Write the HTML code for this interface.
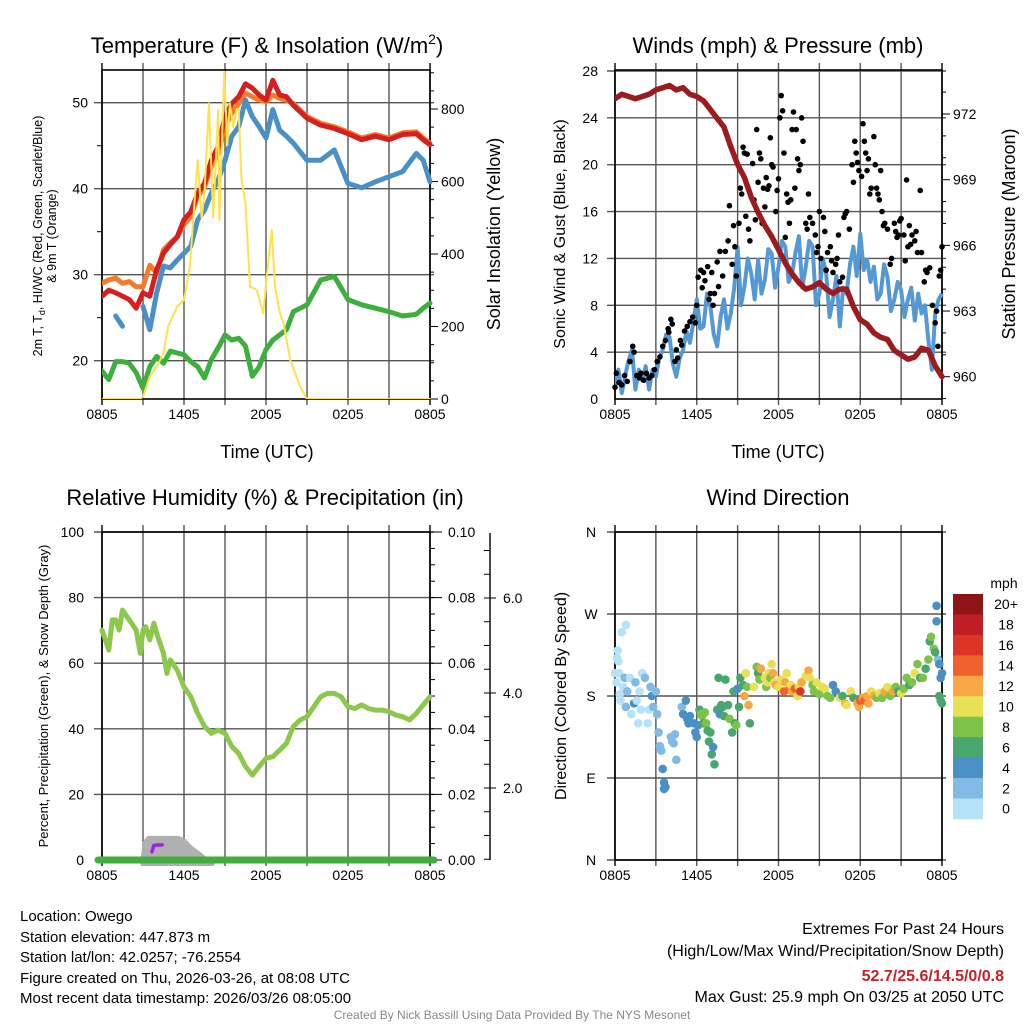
<!DOCTYPE html>
<html><head><meta charset="utf-8"><title>Owego Meteogram</title>
<style>
html,body{margin:0;padding:0;background:#fff;}
svg{display:block;font-family:"Liberation Sans",Arial,sans-serif;}
</style></head>
<body>
<svg id="fig" width="1024" height="1024" viewBox="0 0 1024 1024" xmlns="http://www.w3.org/2000/svg">
<rect width="1024" height="1024" fill="#fff"/>
<g id="p1"></g>
<g id="p2"></g>
<g id="p3"></g>
<g id="p4"></g>
<g id="txt">
<text x="267" y="53" font-size="22" text-anchor="middle">Temperature (F) &amp; Insolation (W/m<tspan font-size="14" dy="-9">2</tspan><tspan dy="9">)</tspan></text>
<text x="778" y="53" font-size="22" text-anchor="middle">Winds (mph) &amp; Pressure (mb)</text>
<text x="265" y="505" font-size="22" text-anchor="middle">Relative Humidity (%) &amp; Precipitation (in)</text>
<text x="778" y="505" font-size="22" text-anchor="middle">Wind Direction</text>
<text x="267" y="458" font-size="18" text-anchor="middle">Time (UTC)</text>
<text x="778" y="458" font-size="18" text-anchor="middle">Time (UTC)</text>
<text transform="translate(42,236) rotate(-90)" font-size="12.5" text-anchor="middle">2m T, T<tspan font-size="9" dy="3">d</tspan><tspan dy="-3">, HI/WC (Red, Green, Scarlet/Blue)</tspan></text>
<text transform="translate(56,236) rotate(-90)" font-size="12.5" text-anchor="middle">&amp; 9m T (Orange)</text>
<text transform="translate(500,234) rotate(-90)" font-size="18" text-anchor="middle">Solar Insolation (Yellow)</text>
<text transform="translate(565,234) rotate(-90)" font-size="16" text-anchor="middle">Sonic Wind &amp; Gust (Blue, Black)</text>
<text transform="translate(1015,234) rotate(-90)" font-size="18" text-anchor="middle">Station Pressure (Maroon)</text>
<text transform="translate(48,696) rotate(-90)" font-size="13" text-anchor="middle">Percent, Precipitation (Green), &amp; Snow Depth (Gray)</text>
<text transform="translate(566,696) rotate(-90)" font-size="16" text-anchor="middle">Direction (Colored By Speed)</text>
<g font-size="15">
<text x="20" y="921">Location: Owego</text>
<text x="20" y="942">Station elevation: 447.873 m</text>
<text x="20" y="962">Station lat/lon: 42.0257; -76.2554</text>
<text x="20" y="983">Figure created on Thu, 2026-03-26, at 08:08 UTC</text>
<text x="20" y="1003">Most recent data timestamp: 2026/03/26 08:05:00</text>
</g>
<g font-size="16" text-anchor="end">
<text x="1004" y="934">Extremes For Past 24 Hours</text>
<text x="1004" y="956">(High/Low/Max Wind/Precipitation/Snow Depth)</text>
<text x="1004" y="981" fill="#c8202a" font-weight="bold">52.7/25.6/14.5/0/0.8</text>
<text x="1004" y="1002">Max Gust: 25.9 mph On 03/25 at 2050 UTC</text>
</g>
<text x="512" y="1019" font-size="12" fill="#888" text-anchor="middle">Created By Nick Bassill Using Data Provided By The NYS Mesonet</text>
</g>
</svg>
<script>
// ---------- DATA ----------
const tempTimes = [0,0.5,1,1.5,2,2.5,3,3.5,4,4.5,5,5.5,6,6.5,7,7.5,8,8.5,9,9.5,10,10.5,11,11.5,12,12.5,13,13.5,14,15,16,17,18,19,20,21,22,23,23.5,24];
const tempRed = [27.5,28.2,27.9,27.5,27.1,26.1,27.9,27.5,30.6,32.5,33.5,34.4,36.4,37.3,39.5,40.6,43.3,44.9,48.4,49.9,50.7,52.2,51.7,50.9,50.3,52.6,50.9,50.7,49.7,48.2,47.4,47.0,46.4,45.7,46.1,45.7,46.3,46.4,45.7,45.1];
const temp9m = [29.0,29.4,29.6,29.0,29.2,28.6,28.6,31.1,30.2,32.9,33.7,34.4,35.8,36.8,39.1,40.2,42.6,44.1,47.2,48.8,49.9,51.1,50.7,50.3,50.1,50.9,50.5,50.3,49.9,48.4,47.6,47.2,46.6,45.9,46.3,45.9,46.5,46.6,45.9,45.3];
const windChill = [null,null,25.2,24.0,null,null,26.3,23.6,27.9,31.0,30.8,31.7,32.5,33.3,36.4,37.5,39.5,41.0,43.3,46.1,47.2,50.3,48.4,47.2,45.9,49.2,46.8,46.1,45.3,43.3,43.3,44.5,40.6,40.1,40.8,41.4,42.0,44.1,43.3,40.8];
const dewPoint = [18.8,17.8,19.9,19.9,19.7,18.6,16.8,19.3,20.5,19.7,21.1,20.9,20.7,19.9,19.3,18.0,20.1,21.5,23.0,22.4,22.6,21.7,18.2,19.3,21.3,22.4,23.0,23.6,25.7,26.5,29.4,29.8,27.1,26.5,26.1,25.7,25.2,25.4,26.1,26.7];
const solarTimes = [0,2.76,3.0,3.5,4.0,4.5,4.84,5.5,6.0,6.43,6.8,7.0,7.29,7.5,7.82,8.14,8.5,8.58,8.95,9.17,9.36,9.6,9.85,10.0,10.2,10.5,10.83,11.32,11.8,12.05,12.42,12.66,13.0,13.28,13.77,14.5,14.99,24];
const solarValues = [0,0,6,62,89,126,200,255,273,365,560,659,500,567,816,500,797,494,903,700,816,750,800,800,610,540,310,301,236,337,466,310,240,209,108,34,0,0];
const tempTicks = [20,30,40,50];
const solarTicks = [0,200,400,600,800];
const timeTickLabels = ["0805","1405","2005","0205","0805"];

const windSpeed = [1.1,2.5,0.5,2.0,3.3,4.2,0.8,2.5,1.6,2.8,0.8,2.5,1.9,3.5,4.2,5.5,5.3,3.0,1.9,3.5,4.2,5.8,4.8,6.5,8.5,6.0,6.2,9.0,7.9,5.5,4.5,7.0,8.5,6.0,7.3,9.5,13.0,8.0,9.6,12.0,10.7,8.5,11.9,9.0,10.2,12.8,12.4,9.5,11.3,13.5,13.0,10.0,10.7,12.5,13.9,9.5,11.3,13.5,13.0,8.0,9.0,12.0,10.7,7.0,8.5,10.5,6.2,9.5,9.0,11.5,13.0,10.5,14.1,11.0,11.9,10.0,11.3,8.5,9.0,11.5,10.4,7.5,8.5,10.0,9.3,7.0,8.5,9.5,6.7,9.0,7.3,8.0,5.0,2.5,7.3,8.5,9.0];
const pressure = [972.7,972.9,972.8,972.7,972.8,972.9,973.1,973.2,973.3,973.1,973.2,972.9,972.8,972.6,972.2,971.8,971.4,970.5,969.7,969.1,968.2,967.5,966.9,966.4,965.8,965.2,964.7,964.3,964.0,964.1,964.3,964.0,963.8,964.0,964.0,963.2,962.6,962.4,962.0,961.8,961.7,961.2,961.0,960.8,960.9,961.3,961.2,960.5,960.0];
const gustTimes = [0.0,0.1,0.3,0.5,0.7,0.9,1.1,1.3,1.4,1.6,1.8,1.9,2.1,2.3,2.5,2.7,2.9,3.1,3.3,3.5,3.7,3.9,3.95,4.1,4.2,4.4,4.5,4.6,4.8,4.9,5.1,5.3,5.5,5.7,5.9,6.0,6.1,6.3,6.4,6.6,6.8,6.9,7.0,6.5,7.1,7.3,7.5,7.7,7.9,7.6,7.2,8.1,8.3,8.4,8.6,8.8,8.9,8.7,9.1,9.2,9.3,9.4,9.6,9.7,9.8,9.9,9.5,10.1,10.2,10.3,10.4,10.5,10.6,10.7,10.9,10.8,11.0,11.1,11.2,11.3,11.5,11.6,11.8,11.9,11.4,12.0,12.2,12.3,12.1,12.4,12.6,12.7,12.8,12.9,12.5,13.0,13.1,13.3,13.4,13.5,13.6,13.7,13.8,13.2,14.0,14.1,14.2,14.3,14.5,14.7,14.9,14.8,15.0,15.1,15.3,15.4,15.6,15.8,15.9,15.5,16.0,16.2,16.3,16.5,16.7,16.8,16.9,16.4,17.0,17.2,17.4,17.6,17.7,17.8,17.9,17.5,18.1,18.2,18.3,18.4,18.5,18.6,18.7,18.8,19.0,19.1,19.2,19.3,19.4,19.5,19.6,19.8,19.7,20.0,20.2,20.3,20.5,20.6,20.7,20.8,20.9,21.0,21.2,21.3,21.5,21.6,21.7,21.4,21.8,22.0,22.1,22.2,22.4,22.5,22.7,22.8,22.9,23.1,23.3,23.5,23.6,23.8,23.9,24.0,23.7];
const gustValues = [1.0,2.2,1.4,1.2,2.0,1.5,3.2,4.5,4.0,2.0,1.8,2.2,1.6,2.2,1.8,2.0,2.5,3.2,3.6,4.5,5.0,6.0,5.7,6.8,6.4,3.2,4.2,3.5,5.0,4.6,5.8,6.2,6.6,7.0,6.5,8.0,10.4,11.0,9.5,10.1,11.3,8.5,9.0,10.8,10.8,9.0,11.7,12.6,10.5,9.6,8.0,12.6,13.5,16.5,11.5,13.0,10.5,14.8,15.0,18.0,17.5,21.5,15.6,20.9,14.5,13.5,21.0,20.1,17.0,15.3,23.0,18.5,21.0,20.5,18.0,15.0,16.4,18.9,17.9,18.2,20.0,19.8,16.0,17.8,22.3,18.8,25.9,24.6,24.0,21.0,17.5,16.8,15.0,17.0,13.8,23.0,24.5,23.0,20.5,19.5,20.0,24.0,22.0,18.0,15.0,14.5,17.5,15.5,15.0,14.0,13.0,12.5,16.0,12.0,15.5,14.3,12.5,13.0,11.8,11.0,10.8,11.5,12.0,10.0,10.4,15.5,15.8,14.0,16.0,14.5,20.0,22.0,21.0,20.2,19.5,18.5,19.0,23.5,22.0,21.0,19.5,20.5,17.5,18.0,22.4,20.0,18.0,17.5,17.0,19.5,16.0,15.0,14.8,14.5,11.5,12.0,15.0,14.3,13.8,14.0,15.2,15.4,14.0,11.8,13.0,14.8,13.2,18.7,14.0,13.5,14.3,12.5,17.8,12.5,10.0,11.0,10.8,11.2,8.0,6.5,7.5,10.5,11.0,13.0,4.5];
const windTicks = [0,4,8,12,16,20,24,28];
const pressureTicks = [960,963,966,969,972];

const rhTimes = [0,0.5,0.75,1,1.25,1.5,2,2.5,2.8,3,3.2,3.5,3.8,4,4.5,4.75,5,5.5,6,6.5,7,7.5,8,8.5,9,9.5,10,10.5,11,11.5,12,12.5,13,13.5,14,14.5,15,15.5,16,16.5,17,17.5,18,18.5,19,19.5,20,20.5,21,21.5,22,22.5,23,23.5,24];
const rhValues = [70.1,64.0,73.2,73.2,70.1,76.2,73.2,70.1,63.0,70.1,71.1,67.1,72.2,69.1,63.0,56.9,61.0,57.9,52.8,49.8,44.7,40.7,38.6,39.6,38.6,34.6,32.5,28.5,25.9,28.5,31.0,31.5,33.5,35.6,40.7,42.7,43.7,46.7,49.8,50.8,50.8,49.8,46.7,46.2,47.3,46.2,45.7,45.7,45.2,44.2,43.7,42.7,44.7,47.3,49.8];
const snowTimes = [2.95,3.1,3.4,5.6,6.0,6.5,7.2,7.8,8.1];
const snowDepth = [0.3,0.85,0.95,0.95,0.9,0.75,0.6,0.45,0.3];
const precipTimes = [3.65,3.8,4.4];
const precipValues = [0.0025,0.0045,0.0046];
const rhTicks = [0,20,40,60,80,100];
const precipTicks = ["0.00","0.02","0.04","0.06","0.08","0.10"];
const snowTicks = ["2.0","4.0","6.0"];

const dirTimes = [0.0,0.1,0.15,0.2,0.25,0.3,0.35,0.4,0.5,0.6,0.7,0.8,0.9,0.8,1.1,1.2,1.4,1.5,1.6,1.7,1.8,1.9,2.0,2.2,2.4,2.5,2.6,2.7,2.8,3.0,3.1,3.2,3.3,3.4,3.5,3.6,3.6,3.7,4.1,4.2,4.3,4.4,4.5,4.9,5.0,5.2,5.3,5.4,5.5,5.8,5.9,6.0,6.1,6.2,6.3,6.4,6.5,6.6,6.7,6.8,6.9,7.0,7.1,7.2,7.3,7.5,7.6,7.7,7.8,7.9,8.0,8.1,8.3,8.4,8.6,8.7,8.8,8.9,9.0,9.1,9.2,9.4,9.5,9.6,9.7,9.8,9.9,10.2,10.4,10.5,10.6,10.7,11.0,11.1,11.2,11.3,11.4,11.5,11.6,11.7,11.8,12.0,12.2,12.4,12.5,12.6,12.8,12.9,13.0,13.2,13.4,13.5,13.6,13.7,14.0,14.2,14.3,14.5,14.6,14.8,15.0,15.2,15.4,15.6,15.8,16.0,16.2,16.5,16.7,16.9,17.0,17.3,17.5,17.8,17.9,18.0,18.2,18.3,18.5,18.6,18.8,19.0,19.2,19.4,19.6,19.8,20.0,20.2,20.4,20.6,20.8,21.0,21.2,21.4,21.6,21.8,22.0,22.2,22.4,22.6,22.8,23.0,23.1,23.2,23.4,23.6,23.6,23.7,23.8,23.9,24.0,23.5,23.8,24.0,23.9];
const dirValues = [205,195,222,230,218,205,182,175,250,190,200,258,185,168,200,160,172,195,175,150,185,165,205,200,150,165,190,180,168,185,160,140,125,120,100,85,78,80,135,130,128,138,110,168,160,175,155,150,158,150,140,135,148,165,160,158,150,162,150,142,130,140,116,124,105,165,200,160,170,168,158,198,170,155,140,185,150,148,188,168,200,192,180,205,190,170,150,190,212,205,198,210,200,190,195,205,200,215,205,195,192,190,198,185,195,205,187,192,185,188,180,190,185,195,202,208,200,192,185,195,182,190,188,180,178,192,185,178,180,172,170,185,178,172,168,175,178,175,180,172,185,180,178,183,178,185,190,180,185,190,185,183,188,200,192,195,205,215,200,200,210,220,240,245,232,262,279,220,215,200,205,228,180,172,175];
const dirSpeeds = [1,1,1,1,1,0,1,1,0,1,3,0,2,3,1,0,4,2,1,0,1,1,1,2,1,1,2,4,3,3,2,3,2,3,4,4,4,4,2,2,2,2,2,2,4,4,4,4,4,4,4,4,4,7,8,8,6,8,8,7,6,6,6,4,6,7,6,5,6,7,6,6,6,8,6,6,6,8,5,7,7,7,12,10,8,12,7,10,9,7,9,13,10,8,10,10,8,11,12,10,12,11,10,15,12,10,15,11,13,15,10,11,16,12,10,13,11,8,8,10,8,10,10,8,8,4,4,10,7,12,10,10,6,12,12,14,12,15,12,12,10,12,8,10,8,12,10,8,12,8,6,10,8,8,6,9,10,8,7,8,6,8,6,8,8,4,4,2,4,4,4,7,6,6,6];
const dirTickLabels = ["N","E","S","W","N"];
const speedColors = ["#b5e2f7","#80bbe5","#4a8fc6","#48a66e","#7dc34a","#e8e055","#f7a844","#f0622d","#dd3428","#be1e24","#8f1418"];
const speedLabels = ["0","2","4","6","8","10","12","14","16","18","20+"];

// ---------- HELPERS ----------
const NS = "http://www.w3.org/2000/svg";
function mk(parent, tag, attrs, text){
  const e = document.createElementNS(NS, tag);
  for (const k in attrs) e.setAttribute(k, attrs[k]);
  if (text !== undefined) e.textContent = text;
  parent.appendChild(e);
  return e;
}
function linScale(d0, d1, r0, r1){ return v => r0 + (v - d0) * (r1 - r0) / (d1 - d0); }
function pathFrom(xs, ys, fx, fy){
  let d = "", pen = false;
  for (let i = 0; i < xs.length; i++){
    if (ys[i] === null || ys[i] === undefined){ pen = false; continue; }
    d += (pen ? "L" : "M") + fx(xs[i]).toFixed(1) + "," + fy(ys[i]).toFixed(1);
    pen = true;
  }
  return d;
}
function drawFrame(g, L, T, R, B, hLines, name){
  const fx = linScale(0, 24, L, R);
  for (let h = 0; h <= 24; h += 3){
    const ln = mk(g, "line", {x1: fx(h), x2: fx(h), y1: T - 7, y2: B + 6, stroke: h % 24 === 0 ? "#000" : "#555", "stroke-width": 1.4});
    
    
  }
  hLines.forEach(y => {
    const ln = mk(g, "line", {x1: L - 8, x2: R + 4, y1: y, y2: y, stroke: "#555", "stroke-width": 1.4});
    
    
  });
  const box = mk(g, "rect", {x: L, y: T, width: R - L, height: B - T, fill: "none", stroke: "#000", "stroke-width": 1.6});
  
  
  timeTickLabels.forEach((lab, i) => {
    const t = mk(g, "text", {x: fx(i * 6), y: B + 20, "font-size": 14, "text-anchor": "middle"}, lab);
    
    
  });
  return fx;
}

// ---------- PANEL 1 ----------
(function(){
  const g = document.getElementById("p1");
  const L = 102, T = 70, R = 430, B = 399;
  const fy = linScale(20, 50, 360.7, 102.7);
  const fs = linScale(0, 800, 399, 109);
  const fx = drawFrame(g, L, T, R, B, tempTicks.map(fy), "temperature");
  tempTicks.forEach(v => {
    const t = mk(g, "text", {x: 88, y: fy(v) + 5, "font-size": 14, "text-anchor": "end"}, String(v));
    
    
  });
  [25,35,45].forEach(v => {
    const m = mk(g, "line", {x1: L - 5, x2: L, y1: fy(v), y2: fy(v), stroke: "#000", "stroke-width": 1});
    
    
  });
  for (let v = 0; v <= 900; v += 50){
    const m = mk(g, "line", {x1: R, x2: R + (v % 200 === 0 ? 8 : 4), y1: fs(v), y2: fs(v), stroke: "#000", "stroke-width": 1});
    
    
  }
  solarTicks.forEach(v => {
    const t = mk(g, "text", {x: 441, y: fs(v) + 5, "font-size": 14}, String(v));
    
    
  });
  const clip = mk(g, "clipPath", {id: "c1"});
  mk(clip, "rect", {x: L, y: T - 5, width: R - L + 4, height: B - T + 5});
  const lines = [
    [tempTimes, dewPoint, "#3daf3d", 5, "dewpoint-line"],
    [tempTimes, temp9m, "#f47b2a", 5, "9m-temperature-line"],
    [tempTimes, tempRed, "#d42020", 5, "2m-temperature-line"],
    [tempTimes, windChill, "#4a90c8", 5, "wind-chill-line"],
    [solarTimes, solarValues, "#ffe14d", 2, "solar-insolation-line"]
  ];
  lines.forEach(([xs, ys, col, w, nm]) => {
    const yf = nm === "solar-insolation-line" ? fs : fy;
    const p = mk(g, "path", {d: pathFrom(xs, ys, fx, yf), fill: "none", stroke: col, "stroke-width": w, "stroke-linejoin": "round", "stroke-linecap": "round", "clip-path": "url(#c1)"});
    
    
  });
})();

// ---------- PANEL 2 ----------
(function(){
  const g = document.getElementById("p2");
  const L = 615, T = 70, R = 942, B = 399;
  const fy = linScale(0, 28, 399, 71);
  const fp = linScale(960, 972, 376.7, 114);
  const fx = drawFrame(g, L, T, R, B, windTicks.slice(1).map(fy), "wind");
  windTicks.forEach(v => {
    const t = mk(g, "text", {x: 598, y: fy(v) + 5, "font-size": 14, "text-anchor": "end"}, String(v));
    
    
  });
  for (let v = 959; v <= 973; v++){
    const m = mk(g, "line", {x1: R, x2: R + ((v % 3 === 0) ? 8 : 4), y1: fp(v), y2: fp(v), stroke: "#000", "stroke-width": 1});
    
    
  }
  pressureTicks.forEach(v => {
    const t = mk(g, "text", {x: 953, y: fp(v) + 5, "font-size": 14}, String(v));
    
    
  });
  const clip = mk(g, "clipPath", {id: "c2"});
  mk(clip, "rect", {x: L, y: T, width: R - L + 3, height: B - T});
  const wt = windSpeed.map((v, i) => i * 0.25);
  const wl = mk(g, "path", {d: pathFrom(wt, windSpeed, fx, fy), fill: "none", stroke: "#5599d4", "stroke-width": 4, "stroke-linejoin": "round", "clip-path": "url(#c2)"});
  
  
  gustTimes.forEach((t, i) => {
    const c = mk(g, "circle", {cx: fx(t), cy: fy(gustValues[i]), r: 2.8, fill: "#000"});
    
    
  });
  const pt = pressure.map((v, i) => i * 0.5);
  const pl = mk(g, "path", {d: pathFrom(pt, pressure, fx, fp), fill: "none", stroke: "#9b1b1e", "stroke-width": 5.5, "stroke-linejoin": "round", "stroke-linecap": "round", "clip-path": "url(#c2)"});
  
  
})();

// ---------- PANEL 3 ----------
(function(){
  const g = document.getElementById("p3");
  const L = 102, T = 532, R = 430, B = 860;
  const fy = linScale(0, 100, 860, 532);
  const fpr = linScale(0, 0.1, 860, 532);
  const fsn = linScale(0, 2, 883, 788);
  const fx = drawFrame(g, L, T, R, B, rhTicks.slice(1).map(fy), "humidity");
  rhTicks.forEach(v => {
    const t = mk(g, "text", {x: 84, y: fy(v) + 5, "font-size": 14, "text-anchor": "end"}, String(v));
    
    
  });
  for (let k = 0; k <= 20; k++){
    const v = k * 5;
    const m = mk(g, "line", {x1: R, x2: R + (k % 4 === 0 ? 12 : 5), y1: fy(v), y2: fy(v), stroke: "#000", "stroke-width": 1});
    
    
  }
  precipTicks.forEach((lab, i) => {
    const t = mk(g, "text", {x: 448, y: fpr(i * 0.02) + 5, "font-size": 14}, lab);
    
    
  });
  const ax = mk(g, "line", {x1: 490, x2: 490, y1: 533, y2: 860, stroke: "#000", "stroke-width": 1.4});
  
  
  for (let v = 0.5; v <= 7; v += 0.5){
    const y = fsn(v);
    if (y < 533 || y > 860) continue;
    const m = mk(g, "line", {x1: 484, x2: (Math.abs(v % 2) < 0.01 ? 496 : 490), y1: y, y2: y, stroke: "#000", "stroke-width": 1});
    
    
  }
  snowTicks.forEach(lab => {
    const t = mk(g, "text", {x: 503, y: fsn(parseFloat(lab)) + 5, "font-size": 14}, lab);
    
    
  });
  let dd = "M" + fx(snowTimes[0]).toFixed(1) + "," + (B + 4);
  snowTimes.forEach((t, i) => { dd += "L" + fx(t).toFixed(1) + "," + Math.min(B + 4, fsn(snowDepth[i])).toFixed(1); });
  dd += "L" + fx(snowTimes[snowTimes.length - 1]).toFixed(1) + "," + (B + 4) + "Z";
  const sa = mk(g, "path", {d: dd, fill: "#b0b0b0", stroke: "#b0b0b0", "stroke-width": 4, "stroke-linejoin": "round"});
  
  
  const pp = mk(g, "path", {d: pathFrom(precipTimes, precipValues, fx, fpr), fill: "none", stroke: "#a020f0", "stroke-width": 3.5, "stroke-linecap": "round", "stroke-linejoin": "round"});
  
  
  const rl = mk(g, "path", {d: pathFrom(rhTimes, rhValues, fx, fy), fill: "none", stroke: "#8cc84b", "stroke-width": 5, "stroke-linejoin": "round", "stroke-linecap": "round"});
  
  
  const pb = mk(g, "line", {x1: L - 4, x2: R + 4, y1: fpr(0), y2: fpr(0), stroke: "#3fae3f", "stroke-width": 7, "stroke-linecap": "round"});
  
  
})();

// ---------- PANEL 4 ----------
(function(){
  const g = document.getElementById("p4");
  const L = 615, T = 532, R = 942, B = 860;
  const fy = linScale(0, 360, 860, 532);
  const fx = drawFrame(g, L, T, R, B, [90,180,270,360].map(fy).concat([B]), "direction");
  dirTickLabels.forEach((lab, i) => {
    const t = mk(g, "text", {x: 591, y: fy(i * 90) + 5, "font-size": 14, "text-anchor": "middle"}, lab);
    
    
  });
  dirTimes.forEach((t, i) => {
    const bin = Math.min(10, Math.floor(dirSpeeds[i] / 2));
    const c = mk(g, "circle", {cx: fx(t), cy: fy(dirValues[i]), r: 4.3, fill: speedColors[bin]});
    
    
  });
  const cb = mk(g, "g", {});
  
  
  const top = 594, h = 20.45;
  for (let k = 0; k < 11; k++){
    const idx = 10 - k;
    const r = mk(cb, "rect", {x: 953, y: top + k * h, width: 30, height: h + 0.3, fill: speedColors[idx]});
    
    
    const t = mk(cb, "text", {x: 1006, y: top + k * h + h / 2 + 5, "font-size": 14, "text-anchor": "middle"}, speedLabels[idx]);
    
    
  }
  const u = mk(cb, "text", {x: 1004, y: 588, "font-size": 14, "text-anchor": "middle"}, "mph");
  
  
})();
</script>
</body></html>
